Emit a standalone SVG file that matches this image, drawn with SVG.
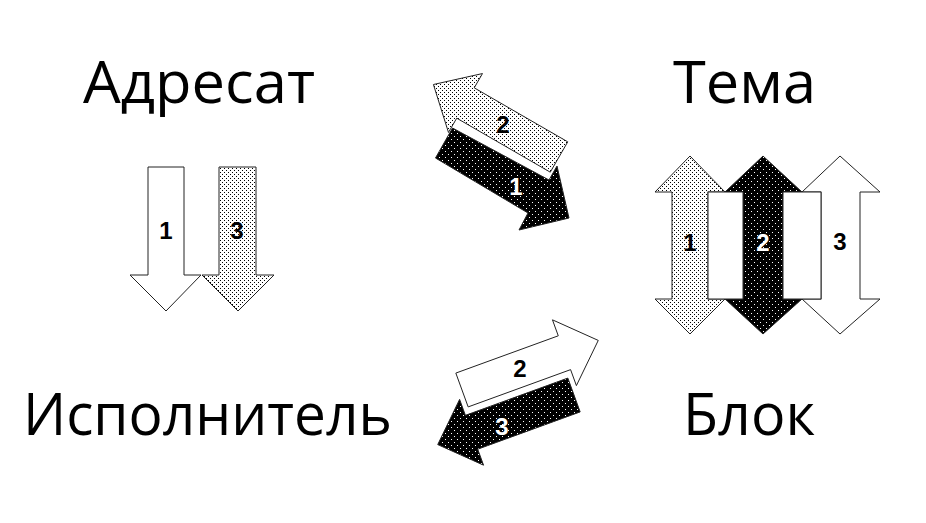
<svg xmlns="http://www.w3.org/2000/svg" width="926" height="523" viewBox="0 0 926 523">
<defs>
<pattern id="lightDots" width="4" height="4" patternUnits="userSpaceOnUse">
<rect width="4" height="4" fill="#fff"/>
<rect x="0" y="0" width="1" height="1" fill="#000"/>
<rect x="2" y="2" width="1" height="1" fill="#000"/>
</pattern>
<pattern id="darkDots" width="6" height="6" patternUnits="userSpaceOnUse">
<rect width="6" height="6" fill="#000"/>
<rect x="1" y="1" width="1" height="1" fill="#fff"/>
<rect x="4" y="4" width="1" height="1" fill="#fff"/>
</pattern>
<style>
.ar { stroke: #222; stroke-width: 1; stroke-linejoin: miter; }
.white { fill: #fff; }
.light { fill: url(#lightDots); }
.dark { fill: url(#darkDots); }
.big { font-family: "Open Sans", "Noto Sans", "Liberation Sans", sans-serif; font-size: 58px; fill: #000; }
.num { font-family: "Liberation Sans", Arial, sans-serif; font-size: 24px; font-weight: bold; text-anchor: middle; }
.numB { fill: #000; }
.numW { fill: #fff; }
</style>
</defs>
<rect width="926" height="523" fill="#fff"/>

<g id="adresat">
<text class="big" x="83" y="103" textLength="232" lengthAdjust="spacingAndGlyphs">Адресат</text>
</g>
<g id="tema">
<text class="big" x="673" y="103" textLength="143" lengthAdjust="spacingAndGlyphs">Тема</text>
</g>
<g id="ispolnitel">
<text class="big" x="23" y="435" textLength="369" lengthAdjust="spacingAndGlyphs">Исполнитель</text>
</g>
<g id="blok">
<text class="big" x="683" y="435" textLength="132" lengthAdjust="spacingAndGlyphs">Блок</text>
</g>

<g id="connectors">
<g id="adresat-arrow-1">
<polygon class="ar white" points="148,167 184,167 184,275 201,275 166,311 130,275 148,275"/>
<text class="num numB" x="166" y="239">1</text>
</g>
<g id="adresat-arrow-3">
<polygon class="ar light" points="219,167 256,167 256,275 274,275 238,311 202,275 219,275"/>
<text class="num numB" x="237" y="239">3</text>
</g>

<g id="top-arrow-2">
<polygon class="ar light" points="567.75,141.84 474.22,87.84 482.47,73.56 433.43,84.5 448.47,132.44 456.72,118.16 550.25,172.16"/>
<text class="num numB" x="503" y="133">2</text>
</g>
<g id="top-arrow-1">
<polygon class="ar dark" points="452.5,128 549,180 557,166 569,218 519,230 528,213 435.5,158"/>
<text class="num numW" x="516" y="195">1</text>
</g>

<g id="bottom-arrow-2">
<polygon class="ar white" points="455.84,373.09 558.27,335.81 552.46,319.83 598.26,340.41 576.4,385.61 570.59,369.63 468.16,406.91"/>
<text class="num numB" x="520" y="377">2</text>
</g>
<g id="bottom-arrow-3">
<polygon class="ar dark" points="580.16,411.91 477.73,449.19 483.54,465.17 437.74,444.59 459.6,399.39 465.41,415.37 567.84,378.09"/>
<text class="num numW" x="502" y="435">3</text>
</g>

<g id="tema-arrow-1">
<polygon class="ar light" points="690,156 725,192 708,192 708,299 725,299 690,334 655,299 672,299 672,192 655,192"/>
</g>
<g id="tema-arrow-2">
<polygon class="ar dark" points="763,156 802,192 783,192 783,299 802,299 763,334 725,299 743,299 743,192 725,192"/>
</g>
<g id="tema-arrow-3">
<polygon class="ar white" points="840,156 880,192 860,192 860,299 880,299 840,334 802,299 821,299 821,192 802,192"/>
</g>
<rect class="ar white" x="708" y="192" width="35" height="107"/>
<rect class="ar white" x="783" y="192" width="38" height="107"/>
<text class="num numB" x="690" y="251">1</text>
<text class="num numW" x="763" y="251">2</text>
<text class="num numB" x="840" y="250">3</text>
</g>
</svg>
